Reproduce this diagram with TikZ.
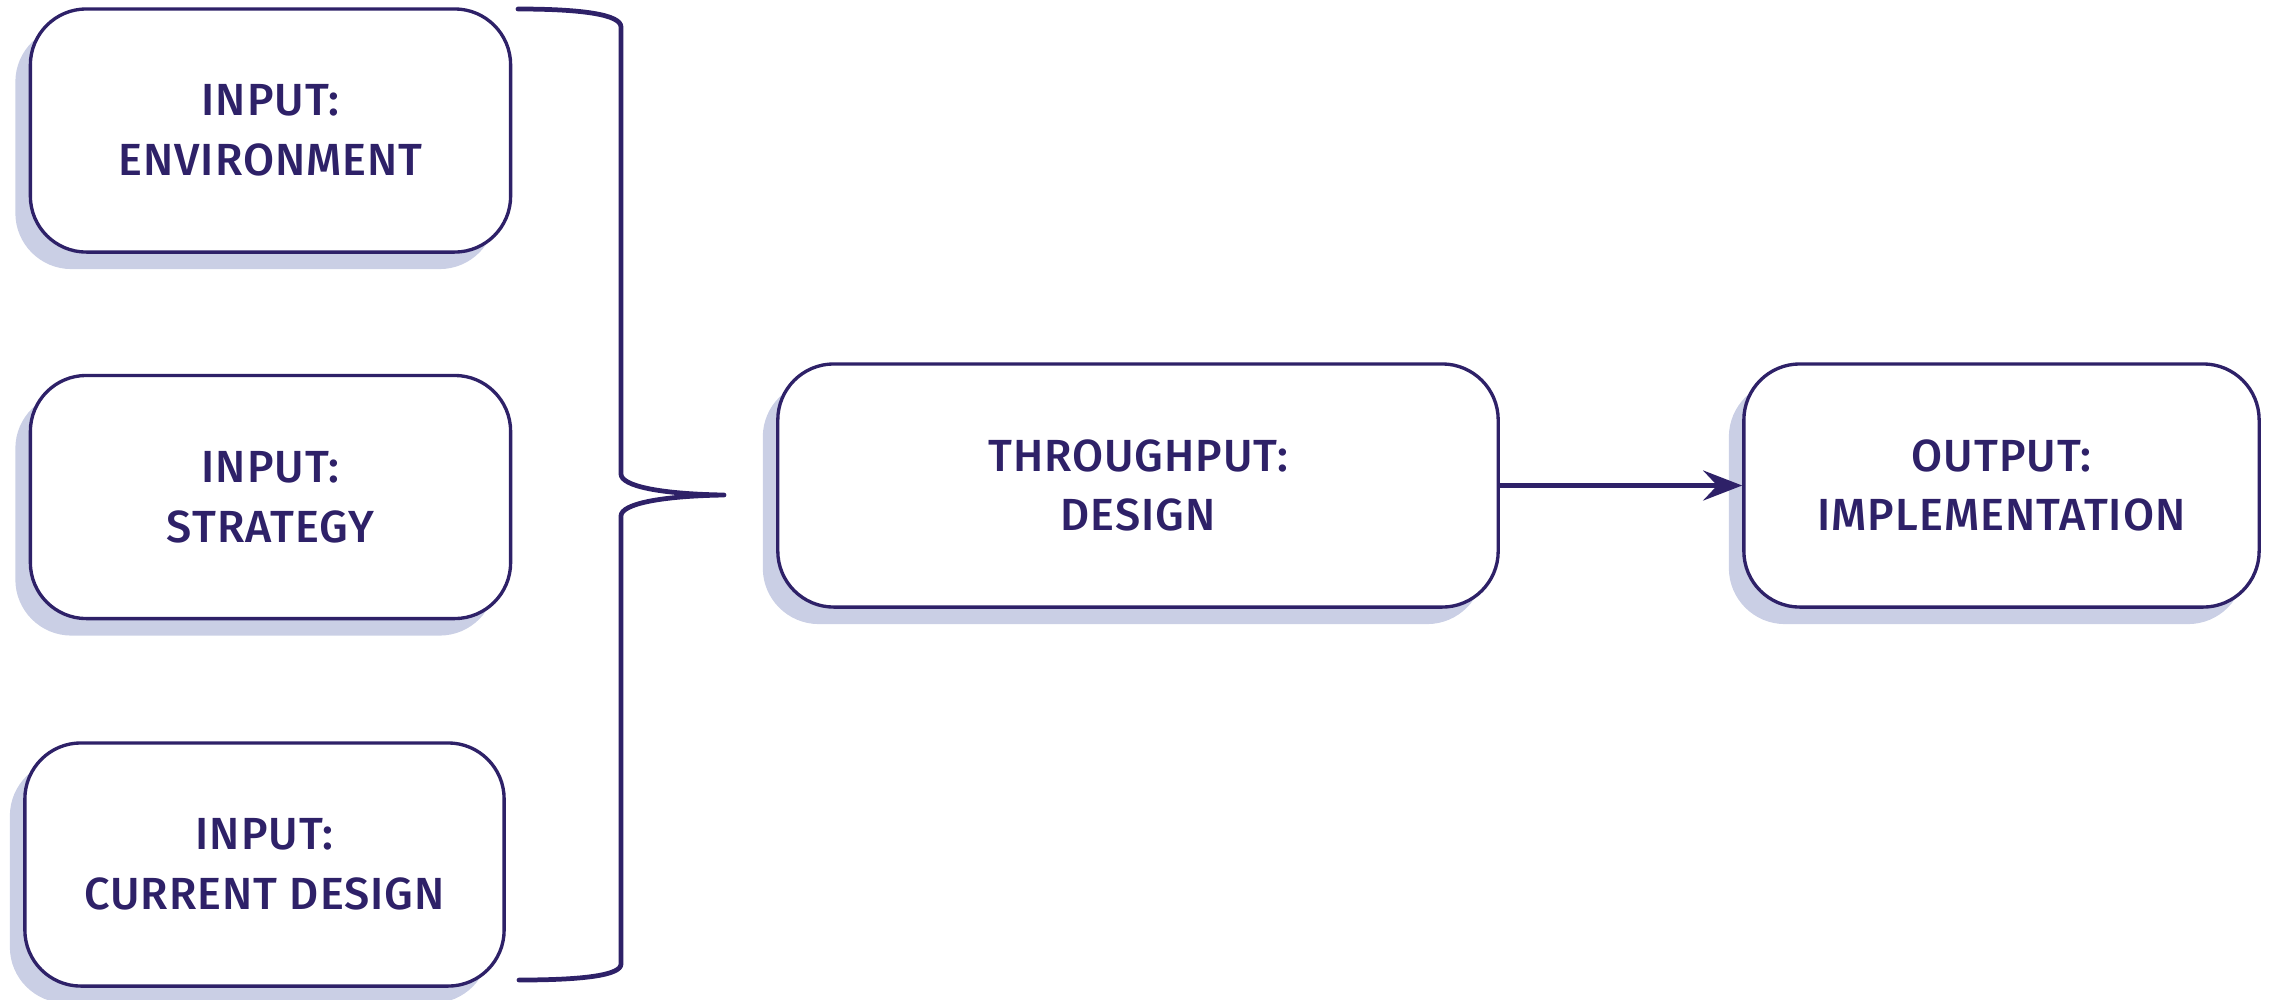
\documentclass[tikz,border=0pt]{standalone}
\usepackage{fontspec}
\setmainfont{Fira Sans}[UprightFont={* Medium}, LetterSpace=2.2]
\usepackage{tikz}
\usetikzlibrary{arrows.meta, shadows}
\definecolor{inkpurple}{RGB}{46,33,104}
\definecolor{shadowblue}{RGB}{202,207,229}

\begin{document}
\begin{tikzpicture}[x=0.01cm, y=-0.01cm,
    every node/.style={text=inkpurple, font=\fontsize{12.8}{17}\selectfont},
    stage/.style={draw=inkpurple, line width=0.95pt, fill=white, rounded corners=0.56cm,
      align=center, minimum height=2.43cm,
      drop shadow={shadow xshift=-0.15cm, shadow yshift=-0.17cm, fill=shadowblue, opacity=1}},
    brace/.style={draw=inkpurple, line width=1.35pt, line cap=round, line join=round},
    flow/.style={draw=inkpurple, line width=1.4pt, -{Stealth[length=3.9mm, width=3mm, inset=1.4mm]}}]
  \useasboundingbox (0,0) rectangle (2275,999);

  % --- inputs ---
  \node[stage, minimum width=4.80cm] (env) at (270.5,130.5) {INPUT:\\ENVIRONMENT};
  \node[stage, minimum width=4.80cm] (strategy) at (270.5,497) {INPUT:\\STRATEGY};
  \node[stage, minimum width=4.79cm] (current) at (264.5,864.5) {INPUT:\\CURRENT DESIGN};

  % --- brace gathering the inputs ---
  \coordinate (tip) at (724,495);
  \draw[brace] (518,9) .. controls (585,9) and (621,15) .. (621,27)
    -- (621,474) .. controls (621,486) and (660,494) .. (tip)
    .. controls (660,496) and (621,504) .. (621,516)
    -- (621,964) .. controls (621,975) and (585,980) .. (519,980);

  % --- throughput and output ---
  \node[stage, minimum width=7.20cm] (design) at (1138,485.5) {THROUGHPUT:\\DESIGN};
  \node[stage, minimum width=5.15cm] (impl) at (2001.5,485.5) {OUTPUT:\\IMPLEMENTATION};

  \draw[flow] (design.east) -- (impl.west);
\end{tikzpicture}
\end{document}
